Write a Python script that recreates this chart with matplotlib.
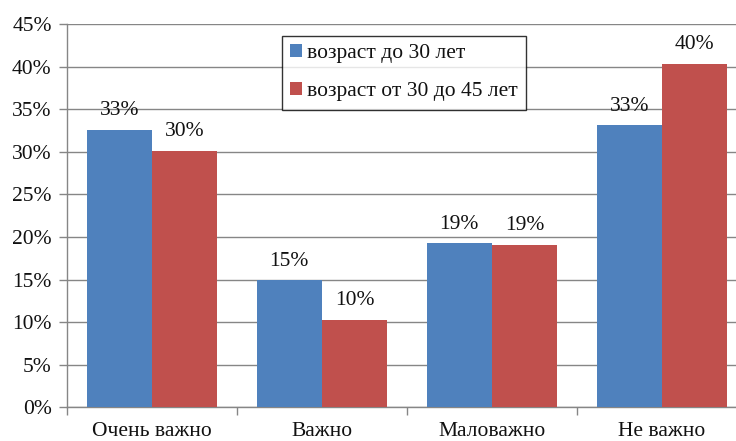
import matplotlib
matplotlib.use("Agg")
import matplotlib.pyplot as plt
import numpy as np

categories = ["Очень важно", "Важно", "Маловажно", "Не важно"]
series_names = ["возраст до 30 лет", "возраст от 30 до 45 лет"]
under30 = [32.6, 14.9, 19.25, 33.1]
from30to45 = [30.1, 10.25, 19.05, 40.3]
yticks = [0, 5, 10, 15, 20, 25, 30, 35, 40, 45]

plt.rcParams['font.family'] = ['Liberation Serif', 'DejaVu Serif']
FS = 15.5

fig = plt.figure(figsize=(7.36, 4.41), dpi=100)
W, H = 736, 441
left, right = 67, 747
bottom, top = 407.3, 24
ax = fig.add_axes([left / W, 1 - bottom / H, (right - left) / W, (bottom - top) / H])

x = np.arange(len(categories))
bw = 0.385
colors = ["#4F81BD", "#C0504D"]
grid_c = "#868686"

b1 = ax.bar(x - bw / 2, under30, bw, color=colors[0], label=series_names[0], zorder=3)
b2 = ax.bar(x + bw / 2, from30to45, bw, color=colors[1], label=series_names[1], zorder=3)

for bars, vals in ((b1, under30), (b2, from30to45)):
    for r, v in zip(bars, vals):
        ax.annotate(f"{round(v):d}%", (r.get_x() + r.get_width() / 2, v),
                    xytext=(0, 7), textcoords="offset points",
                    ha="center", va="bottom", fontsize=FS, color="#111111")

ax.set_xlim(-0.5, len(categories) - 0.5)
ax.set_ylim(0, 45)
ax.set_yticks(yticks)
ax.set_yticklabels([f"{t}%" for t in yticks], fontsize=FS, color="#111111")
ax.yaxis.grid(True, color=grid_c, linewidth=1, zorder=0)
ax.set_axisbelow(True)

ax.set_xticks(x)
ax.set_xticklabels(categories, fontsize=FS, color="#111111")
ax.set_xticks(np.arange(-0.5, len(categories), 1), minor=True)
ax.tick_params(axis="x", which="major", length=0, pad=10.5)
ax.tick_params(axis="x", which="minor", length=6, color=grid_c, width=1)
ax.tick_params(axis="y", length=6, color=grid_c, width=1, pad=5)

for s in ("top", "right"):
    ax.spines[s].set_visible(False)
for s in ("left", "bottom"):
    ax.spines[s].set_color(grid_c)
    ax.spines[s].set_linewidth(1)

leg = ax.legend(loc="upper left", bbox_to_anchor=((282 - left) / (right - left), (bottom - 35.7) / (bottom - top)),
                fontsize=FS, frameon=True, fancybox=False, edgecolor="black",
                handlelength=0.55, handleheight=0.55, handletextpad=0.25,
                labelspacing=0.9, borderpad=0.38, borderaxespad=0)
leg.get_frame().set_linewidth(1)
for t in leg.get_texts():
    t.set_color("#111111")

fig.savefig("out.png", dpi=100)
